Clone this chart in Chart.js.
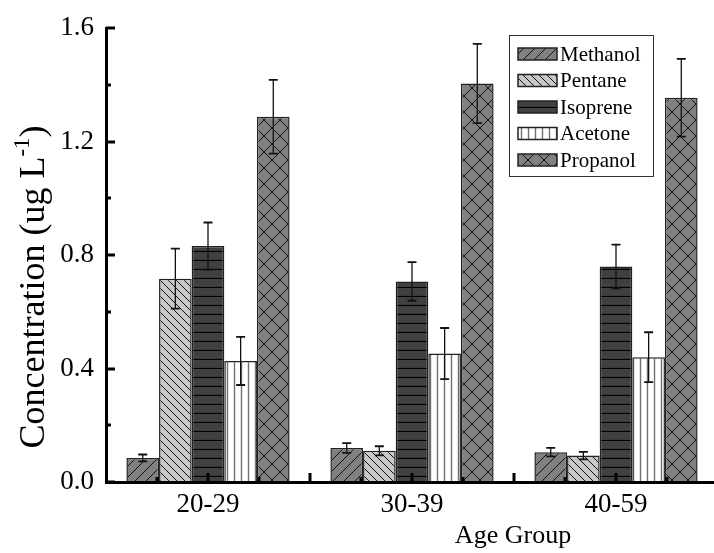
<!DOCTYPE html>
<html>
<head>
<meta charset="utf-8">
<script src="https://cdn.jsdelivr.net/npm/chart.js@4.4.1/dist/chart.umd.min.js"></script>
<style>
  html, body { margin: 0; padding: 0; background: #fff; overflow: hidden; }
  #wrap { width: 718px; height: 553px; }
</style>
</head>
<body>
<div id="wrap"><canvas id="myChart"></canvas></div>
<script>
// data
var ageGroups = ['20-29', '30-39', '40-59'];
var compounds = ['Methanol', 'Pentane', 'Isoprene', 'Acetone', 'Propanol'];
var methanol = [0.085, 0.12, 0.105];
var methanolErr = [0.012, 0.017, 0.015];
var pentane = [0.717, 0.11, 0.093];
var pentaneErr = [0.106, 0.016, 0.013];
var isoprene = [0.832, 0.707, 0.76];
var isopreneErr = [0.083, 0.068, 0.077];
var acetone = [0.427, 0.453, 0.44];
var acetoneErr = [0.085, 0.09, 0.088];
var propanol = [1.288, 1.405, 1.355];
var propanolErr = [0.13, 0.14, 0.137];
var yTicks = [0, 0.4, 0.8, 1.2, 1.6];

var FONT = '"Liberation Serif", "Times New Roman", serif';

// build a repeating hatch pattern
function makePattern(bg, lineColor, lineWidth, size, kind) {
    var c = document.createElement('canvas');
    c.width = size; c.height = size;
    var g = c.getContext('2d');
    g.fillStyle = bg;
    g.fillRect(0, 0, size, size);
    g.strokeStyle = lineColor;
    g.lineWidth = lineWidth;
    g.beginPath();
    var k;
    if (kind === 'fwd' || kind === 'cross') {
        for (k = -size; k <= size; k += size) { g.moveTo(k, size); g.lineTo(k + size, 0); }
    }
    if (kind === 'back' || kind === 'cross') {
        for (k = -size; k <= size; k += size) { g.moveTo(k, 0); g.lineTo(k + size, size); }
    }
    if (kind === 'horiz') { g.moveTo(0, size - 0.5); g.lineTo(size, size - 0.5); }
    if (kind === 'vert') { g.moveTo(size / 2, 0); g.lineTo(size / 2, size); }
    g.stroke();
    return g.createPattern(c, 'repeat');
}

var fills = [
    makePattern('#808080', '#111', 1, 11, 'fwd'),
    makePattern('#c8c8c8', '#111', 1, 8, 'back'),
    makePattern('#404040', '#000', 1.2, 9, 'horiz'),
    makePattern('#ffffff', '#707070', 1.4, 7, 'vert'),
    makePattern('#808080', '#111', 1, 16, 'cross')
];

var values = [methanol, pentane, isoprene, acetone, propanol];
var errors = [methanolErr, pentaneErr, isopreneErr, acetoneErr, propanolErr];

var datasets = compounds.map(function (name, i) {
    return {
        label: name,
        data: values[i],
        errors: errors[i],
        backgroundColor: fills[i],
        borderColor: '#222',
        borderWidth: 1.5,
        categoryPercentage: 0.8,
        barPercentage: 1.0
    };
});

// error bars drawn from the y scale
var errorBars = {
    id: 'errorBars',
    afterDatasetsDraw: function (chart) {
        var ctx = chart.ctx, y = chart.scales.y;
        ctx.save();
        ctx.strokeStyle = '#111';
        chart.data.datasets.forEach(function (ds, di) {
            var meta = chart.getDatasetMeta(di);
            meta.data.forEach(function (bar, i) {
                var v = ds.data[i], e = ds.errors[i];
                var top = y.getPixelForValue(v + e), bot = y.getPixelForValue(v - e);
                ctx.lineWidth = 1.3;
                ctx.beginPath();
                ctx.moveTo(bar.x, top); ctx.lineTo(bar.x, bot);
                ctx.stroke();
                ctx.lineWidth = 1.8;
                ctx.beginPath();
                ctx.moveTo(bar.x - 4.5, top); ctx.lineTo(bar.x + 4.5, top);
                ctx.moveTo(bar.x - 4.5, bot); ctx.lineTo(bar.x + 4.5, bot);
                ctx.stroke();
            });
        });
        ctx.restore();
    }
};

// inward tick marks, titles and boxed legend
var decor = {
    id: 'decor',
    afterDraw: function (chart) {
        var ctx = chart.ctx, x = chart.scales.x, y = chart.scales.y, a = chart.chartArea;
        ctx.save();
        ctx.strokeStyle = '#000';
        ctx.lineWidth = 3;
        ctx.beginPath();
        for (var v = 0; v <= 1.6001; v += 0.2) {
            var py = Math.round(y.getPixelForValue(v));
            var major = Math.round(v * 10) % 4 === 0;
            ctx.moveTo(a.left, py); ctx.lineTo(a.left + (major ? 9 : 5), py);
        }
        for (var t = -0.25; t <= 2.76; t += 0.25) {
            var px = Math.round(x.getPixelForValue(t));
            var maj = Math.abs(t * 2 - Math.round(t * 2)) < 0.01;
            ctx.moveTo(px, a.bottom); ctx.lineTo(px, a.bottom - (maj ? 9 : 5));
        }
        ctx.stroke();

        // y title with superscript
        ctx.fillStyle = '#000';
        ctx.textBaseline = 'middle';
        ctx.translate(35, 287);
        ctx.rotate(-Math.PI / 2);
        var p1 = 'Concentration (ug L', sup = '-1', p2 = ')';
        ctx.font = '36px ' + FONT;
        var w1 = ctx.measureText(p1).width, w3 = ctx.measureText(p2).width;
        ctx.font = '23px ' + FONT;
        var w2 = ctx.measureText(sup).width;
        var sx = -(w1 + w2 + w3) / 2;
        ctx.textAlign = 'left';
        ctx.font = '36px ' + FONT;
        ctx.fillText(p1, sx, 0);
        ctx.font = '23px ' + FONT;
        ctx.fillText(sup, sx + w1, -12);
        ctx.font = '36px ' + FONT;
        ctx.fillText(p2, sx + w1 + w2, 0);
        ctx.setTransform(1, 0, 0, 1, 0, 0);

        // x title
        ctx.textAlign = 'center';
        ctx.textBaseline = 'alphabetic';
        ctx.font = '26px ' + FONT;
        ctx.fillText('Age Group', 513, 543);

        // legend
        var bx = 509, by = 35, bw = 144, bh = 141;
        ctx.fillStyle = '#fff';
        ctx.fillRect(bx, by, bw, bh);
        ctx.strokeStyle = '#333';
        ctx.lineWidth = 1;
        ctx.strokeRect(bx + 0.5, by + 0.5, bw, bh);
        ctx.font = '21px ' + FONT;
        ctx.textAlign = 'left';
        ctx.textBaseline = 'middle';
        chart.data.datasets.forEach(function (ds, i) {
            var cy = 54 + i * 26.5;
            ctx.fillStyle = ds.backgroundColor;
            ctx.fillRect(518, cy - 6, 39, 12);
            ctx.strokeStyle = '#222';
            ctx.lineWidth = 1.5;
            ctx.strokeRect(518, cy - 6, 39, 12);
            ctx.fillStyle = '#000';
            ctx.fillText(ds.label, 560, cy + 1);
        });
        ctx.restore();
    }
};

var ctx = document.getElementById('myChart').getContext('2d');
var myChart = new Chart(ctx, {
    type: 'bar',
    data: { labels: ageGroups, datasets: datasets },
    options: {
        responsive: true,
        maintainAspectRatio: false,
        animation: false,
        layout: { padding: { top: 26, right: 0, left: 0, bottom: 0 } },
        plugins: { legend: { display: false }, tooltip: { enabled: false } },
        scales: {
            x: {
                grid: { display: false, drawTicks: false },
                border: { display: true, color: '#000', width: 3, z: 1 },
                ticks: { color: '#000', padding: 7, font: { family: FONT, size: 27 } },
                afterFit: function (s) { s.height = 71; }
            },
            y: {
                min: 0,
                max: 1.6,
                afterBuildTicks: function (s) { s.ticks = yTicks.map(function (v) { return { value: v }; }); },
                grid: { display: false, drawTicks: false },
                border: { display: true, color: '#000', width: 3, z: 1 },
                ticks: {
                    color: '#000', padding: 12, font: { family: FONT, size: 27 },
                    callback: function (v) { return Number(v).toFixed(1); }
                },
                afterFit: function (s) { s.width = 106; }
            }
        }
    },
    plugins: [errorBars, decor]
});
</script>
</body>
</html>
